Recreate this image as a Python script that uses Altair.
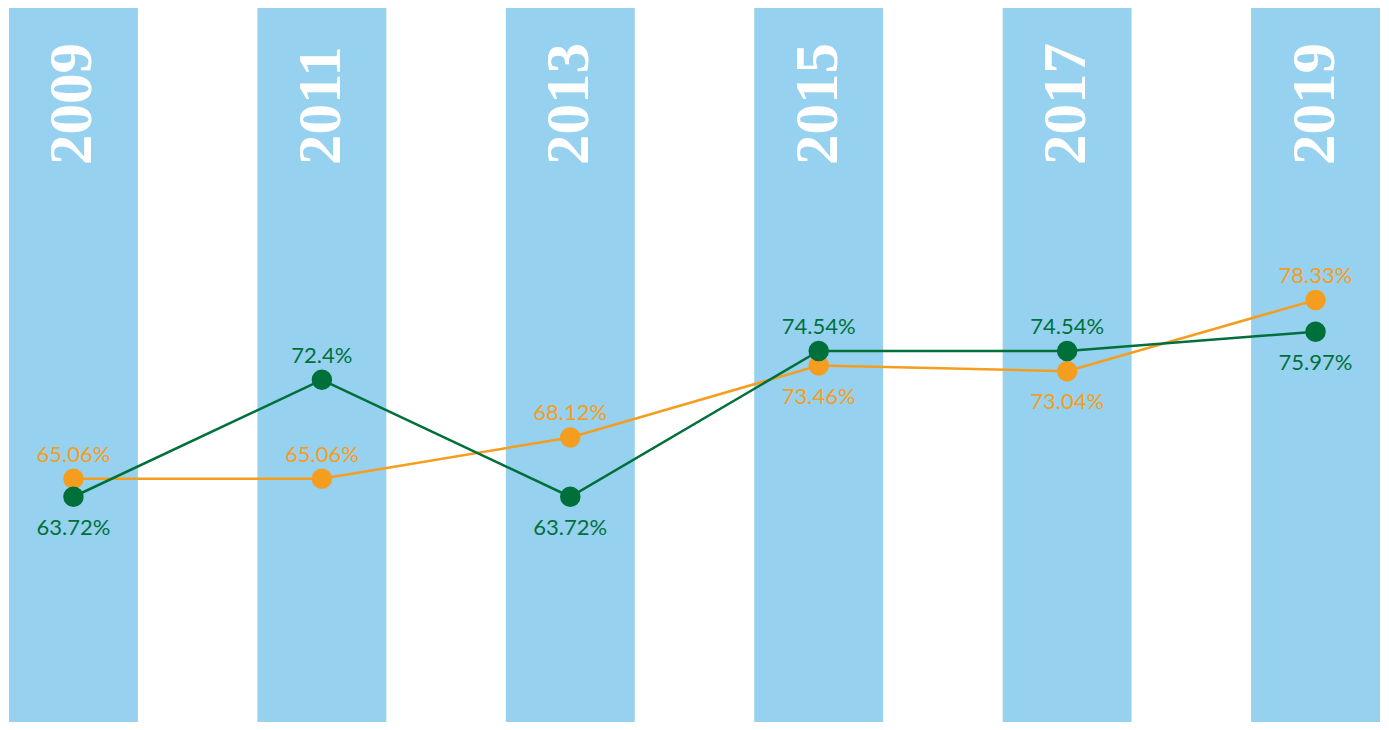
import altair as alt
import pandas as pd

years = ["2009", "2011", "2013", "2015", "2017", "2019"]
green_values = [63.72, 72.4, 63.72, 74.54, 74.54, 75.97]
orange_values = [65.06, 65.06, 68.12, 73.46, 73.04, 78.33]
green_label_pos = ["below", "above", "below", "above", "above", "below"]
orange_label_pos = ["above", "above", "above", "below", "below", "above"]

series_names = ["Orange", "Green"]
series_colors = ["#F59D1E", "#00703A"]

rows = []
for s, vals, pos in [("Orange", orange_values, orange_label_pos),
                     ("Green", green_values, green_label_pos)]:
    for yr, v, p in zip(years, vals, pos):
        rows.append({"year": yr, "series": s, "value": v, "pos": p, "label": f"{v}%"})
df = pd.DataFrame(rows)
years_df = pd.DataFrame({"year": years})

x = alt.X("year:N", sort=years,
          scale=alt.Scale(paddingInner=0.481, paddingOuter=0.004), axis=None)
y = alt.Y("value:Q", scale=alt.Scale(domain=[47, 100], nice=False, zero=False), axis=None)
color = alt.Color("series:N",
                  scale=alt.Scale(domain=series_names, range=series_colors),
                  legend=None)

bars = alt.Chart(years_df).mark_bar(color="#96D2F0").encode(x=x)

year_text = alt.Chart(years_df).mark_text(
    font="Liberation Serif", fontWeight="bold", fontSize=61, angle=270,
    align="left", baseline="middle", color="white"
).encode(x=x, y=alt.value(157), text="year:N")

base = alt.Chart(df)

lines = base.mark_line(strokeWidth=2.5).encode(x=x, y=y, color=color, detail="series:N")
points = base.mark_circle(size=420, opacity=1).encode(x=x, y=y, color=color)

labels_above = base.transform_filter(alt.datum.pos == "above").mark_text(
    font="Lato", fontSize=22, dy=-24, baseline="middle"
).encode(x=x, y=y, color=color, text="label:N")

labels_below = base.transform_filter(alt.datum.pos == "below").mark_text(
    font="Lato", fontSize=22, dy=31, baseline="middle"
).encode(x=x, y=y, color=color, text="label:N")

chart = alt.layer(bars, year_text, lines, points, labels_above, labels_below).properties(
    width=1373, height=714, padding=0,
    autosize=alt.AutoSizeParams(type="fit", contains="padding"),
).configure_view(stroke=None)

chart.save("out.html", embed_options={"renderer": "svg", "actions": False})
